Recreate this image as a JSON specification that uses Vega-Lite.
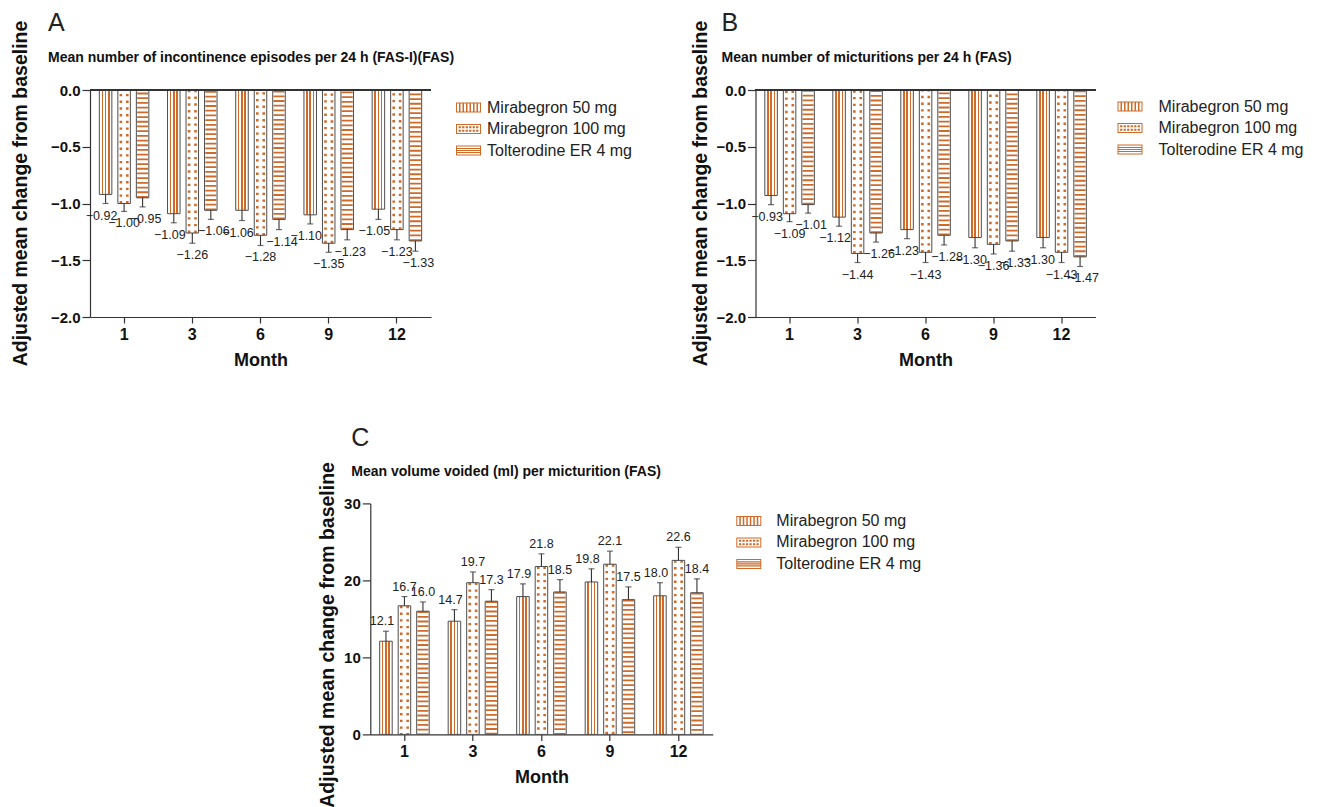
{
"$schema": "https://vega.github.io/schema/vega-lite/v6.json",
"background": "white",
"padding": {"left": 9, "top": 11, "right": 5, "bottom": 5},
"bounds": "flush",
"spacing": 413.4,
"resolve": {"scale": {"shape": "independent"}, "legend": {"shape": "independent"}},
"datasets": {
"A": [
{"month":"1","series":"Mirabegron 50 mg","value":-0.92,"err":-1.0},
{"month":"1","series":"Mirabegron 100 mg","value":-1.0,"err":-1.07},
{"month":"1","series":"Tolterodine ER 4 mg","value":-0.95,"err":-1.03},
{"month":"3","series":"Mirabegron 50 mg","value":-1.09,"err":-1.17},
{"month":"3","series":"Mirabegron 100 mg","value":-1.26,"err":-1.35},
{"month":"3","series":"Tolterodine ER 4 mg","value":-1.06,"err":-1.14},
{"month":"6","series":"Mirabegron 50 mg","value":-1.06,"err":-1.15},
{"month":"6","series":"Mirabegron 100 mg","value":-1.28,"err":-1.37},
{"month":"6","series":"Tolterodine ER 4 mg","value":-1.14,"err":-1.23},
{"month":"9","series":"Mirabegron 50 mg","value":-1.10,"err":-1.18},
{"month":"9","series":"Mirabegron 100 mg","value":-1.35,"err":-1.43},
{"month":"9","series":"Tolterodine ER 4 mg","value":-1.23,"err":-1.32},
{"month":"12","series":"Mirabegron 50 mg","value":-1.05,"err":-1.14},
{"month":"12","series":"Mirabegron 100 mg","value":-1.23,"err":-1.32},
{"month":"12","series":"Tolterodine ER 4 mg","value":-1.33,"err":-1.42}
],
"B": [
{"month":"1","series":"Mirabegron 50 mg","value":-0.93,"err":-1.01},
{"month":"1","series":"Mirabegron 100 mg","value":-1.09,"err":-1.16},
{"month":"1","series":"Tolterodine ER 4 mg","value":-1.01,"err":-1.085},
{"month":"3","series":"Mirabegron 50 mg","value":-1.12,"err":-1.20},
{"month":"3","series":"Mirabegron 100 mg","value":-1.44,"err":-1.52},
{"month":"3","series":"Tolterodine ER 4 mg","value":-1.26,"err":-1.34},
{"month":"6","series":"Mirabegron 50 mg","value":-1.23,"err":-1.31},
{"month":"6","series":"Mirabegron 100 mg","value":-1.43,"err":-1.52},
{"month":"6","series":"Tolterodine ER 4 mg","value":-1.28,"err":-1.365},
{"month":"9","series":"Mirabegron 50 mg","value":-1.30,"err":-1.39},
{"month":"9","series":"Mirabegron 100 mg","value":-1.36,"err":-1.445},
{"month":"9","series":"Tolterodine ER 4 mg","value":-1.33,"err":-1.42},
{"month":"12","series":"Mirabegron 50 mg","value":-1.30,"err":-1.39},
{"month":"12","series":"Mirabegron 100 mg","value":-1.43,"err":-1.52},
{"month":"12","series":"Tolterodine ER 4 mg","value":-1.47,"err":-1.555}
],
"C": [
{"month":"1","series":"Mirabegron 50 mg","value":12.1,"err":13.4},
{"month":"1","series":"Mirabegron 100 mg","value":16.7,"err":17.9},
{"month":"1","series":"Tolterodine ER 4 mg","value":16.0,"err":17.2},
{"month":"3","series":"Mirabegron 50 mg","value":14.7,"err":16.2},
{"month":"3","series":"Mirabegron 100 mg","value":19.7,"err":21.1},
{"month":"3","series":"Tolterodine ER 4 mg","value":17.3,"err":18.8},
{"month":"6","series":"Mirabegron 50 mg","value":17.9,"err":19.55},
{"month":"6","series":"Mirabegron 100 mg","value":21.8,"err":23.45},
{"month":"6","series":"Tolterodine ER 4 mg","value":18.5,"err":20.1},
{"month":"9","series":"Mirabegron 50 mg","value":19.8,"err":21.5},
{"month":"9","series":"Mirabegron 100 mg","value":22.1,"err":23.8},
{"month":"9","series":"Tolterodine ER 4 mg","value":17.5,"err":19.15},
{"month":"12","series":"Mirabegron 50 mg","value":18.0,"err":19.7},
{"month":"12","series":"Mirabegron 100 mg","value":22.6,"err":24.3},
{"month":"12","series":"Tolterodine ER 4 mg","value":18.4,"err":20.2}
]
},
"vconcat": [
{
"hconcat": [
{
"width": 341, "height": 227,
"data": {"name": "A"},
"title": {"text": "\u00a0A", "subtitle": "Mean number of incontinence episodes per 24 h (FAS-I)(FAS)", "dx": -42, "offset": -45, "subtitlePadding": 15},
"layer": [
{"mark": {"type": "bar", "fill": "#ffffff", "strokeWidth": 0}, "transform": [{"filter": "datum.series !== 'Mirabegron 50 mg'"}],
 "encoding": {
  "x": {"field": "month", "type": "nominal", "sort": ["1","3","6","9","12"], "scale": {"paddingInner": 0.274, "paddingOuter": 0.137}, "axis": {"title": "Month"}},
  "xOffset": {"field": "series", "type": "nominal", "scale": {"domain": ["Mirabegron 50 mg","Mirabegron 100 mg","Tolterodine ER 4 mg"], "paddingInner": 0.324, "paddingOuter": 0}},
  "y": {"field": "value", "type": "quantitative", "scale": {"domain": [-2, 0], "nice": false}, "axis": {"values": [0,-0.5,-1,-1.5,-2], "format": ".1f", "title": "Adjusted mean change from baseline", "titleX": -70, "titleY": 103, "titleBaseline": "middle", "titleAlign": "center"}}
 }},
{"mark": {"type": "bar", "strokeWidth": 0, "fill": {"gradient": "linear", "x1": 0, "y1": 0, "x2": 1, "y2": 0, "stops": [{"offset":0,"color":"#ffffff"},{"offset":0.18,"color":"#ffffff"},{"offset":0.18,"color":"#d06a28"},{"offset":0.3,"color":"#d06a28"},{"offset":0.3,"color":"#ffffff"},{"offset":0.44,"color":"#ffffff"},{"offset":0.44,"color":"#d06a28"},{"offset":0.56,"color":"#d06a28"},{"offset":0.56,"color":"#ffffff"},{"offset":0.7,"color":"#ffffff"},{"offset":0.7,"color":"#d06a28"},{"offset":0.82,"color":"#d06a28"},{"offset":0.82,"color":"#ffffff"},{"offset":1,"color":"#ffffff"}]}},
 "transform": [{"filter": "datum.series === 'Mirabegron 50 mg'"}],
 "encoding": {"x": {"field": "month", "type": "nominal", "sort": ["1","3","6","9","12"]}, "xOffset": {"field": "series", "type": "nominal"}, "y": {"field": "value", "type": "quantitative"}}},
{"mark": {"type": "rule", "color": "#d06a28", "strokeWidth": 11, "strokeDash": [1.8, 2.9]}, "transform": [{"filter": "datum.series === 'Tolterodine ER 4 mg'"}],
 "encoding": {"x": {"field": "month", "type": "nominal", "sort": ["1","3","6","9","12"]}, "xOffset": {"field": "series", "type": "nominal"}, "y": {"field": "value", "type": "quantitative"}, "y2": {"datum": 0}}},
{"mark": {"type": "rule", "color": "#d06a28", "strokeWidth": 9, "strokeDash": [2.4, 4.3]}, "transform": [{"filter": "datum.series === 'Mirabegron 100 mg'"}],
 "encoding": {"x": {"field": "month", "type": "nominal", "sort": ["1","3","6","9","12"]}, "xOffset": {"field": "series", "type": "nominal"}, "y": {"field": "value", "type": "quantitative"}, "y2": {"datum": 0}}},
{"mark": {"type": "rule", "color": "#ffffff", "strokeWidth": 3.8}, "transform": [{"filter": "datum.series === 'Mirabegron 100 mg'"}],
 "encoding": {"x": {"field": "month", "type": "nominal", "sort": ["1","3","6","9","12"]}, "xOffset": {"field": "series", "type": "nominal"}, "y": {"field": "value", "type": "quantitative"}, "y2": {"datum": 0}}},
{"mark": {"type": "bar", "fillOpacity": 0, "stroke": "#4d4d4d", "strokeWidth": 1},
 "encoding": {"x": {"field": "month", "type": "nominal", "sort": ["1","3","6","9","12"]}, "xOffset": {"field": "series", "type": "nominal"}, "y": {"field": "value", "type": "quantitative"}}},
{"mark": {"type": "rule", "color": "#333333", "strokeWidth": 1.1},
 "encoding": {"x": {"field": "month", "type": "nominal", "sort": ["1","3","6","9","12"]}, "xOffset": {"field": "series", "type": "nominal"}, "y": {"field": "value", "type": "quantitative"}, "y2": {"field": "err"}}},
{"mark": {"type": "tick", "color": "#333333", "thickness": 1.2, "size": 6, "orient": "horizontal"},
 "encoding": {"x": {"field": "month", "type": "nominal", "sort": ["1","3","6","9","12"]}, "xOffset": {"field": "series", "type": "nominal"}, "y": {"field": "err", "type": "quantitative"}}},
{"mark": {"type": "text", "fontSize": 12.5, "color": "#222222", "dy": 12, "dx": -4, "baseline": "middle"}, "transform": [{"filter": "datum.series === 'Mirabegron 50 mg'"}],
 "encoding": {"x": {"field": "month", "type": "nominal", "sort": ["1","3","6","9","12"]}, "xOffset": {"field": "series", "type": "nominal"}, "y": {"field": "err", "type": "quantitative"}, "text": {"field": "value", "type": "quantitative", "format": ".2f"}}},
{"mark": {"type": "text", "fontSize": 12.5, "color": "#222222", "dy": 12, "dx": 0, "baseline": "middle"}, "transform": [{"filter": "datum.series === 'Mirabegron 100 mg'"}],
 "encoding": {"x": {"field": "month", "type": "nominal", "sort": ["1","3","6","9","12"]}, "xOffset": {"field": "series", "type": "nominal"}, "y": {"field": "err", "type": "quantitative"}, "text": {"field": "value", "type": "quantitative", "format": ".2f"}}},
{"mark": {"type": "text", "fontSize": 12.5, "color": "#222222", "dy": 12, "dx": 3, "baseline": "middle"}, "transform": [{"filter": "datum.series === 'Tolterodine ER 4 mg'"}],
 "encoding": {"x": {"field": "month", "type": "nominal", "sort": ["1","3","6","9","12"]}, "xOffset": {"field": "series", "type": "nominal"}, "y": {"field": "err", "type": "quantitative"}, "text": {"field": "value", "type": "quantitative", "format": ".2f"}}},
{"mark": {"type": "rule", "color": "#333333", "strokeWidth": 1.2}, "encoding": {"y": {"datum": 0}}},
{"mark": {"type": "point", "filled": true, "opacity": 0, "color": "#d06a28"},
 "encoding": {"x": {"field": "month", "type": "nominal", "sort": ["1","3","6","9","12"]}, "xOffset": {"field": "series", "type": "nominal"}, "y": {"field": "value", "type": "quantitative"},
  "shape": {"field": "series", "type": "nominal", "scale": {"domain": ["Mirabegron 50 mg","Mirabegron 100 mg","Tolterodine ER 4 mg"], "range": [
   "M-1,-0.4H1V0.4H-1Z M-0.92,-0.32V0.32H0.92V-0.32Z M-0.76,-0.32h0.12v0.64h-0.12Z M-0.48,-0.32h0.12v0.64h-0.12Z M-0.2,-0.32h0.12v0.64h-0.12Z M0.08,-0.32h0.12v0.64h-0.12Z M0.36,-0.32h0.12v0.64h-0.12Z M0.64,-0.32h0.12v0.64h-0.12Z",
   "M-1,-0.4H1V0.4H-1Z M-0.92,-0.32V0.32H0.92V-0.32Z M-0.79,-0.22h0.18v0.16h-0.18Z M-0.51,-0.22h0.18v0.16h-0.18Z M-0.23,-0.22h0.18v0.16h-0.18Z M0.05,-0.22h0.18v0.16h-0.18Z M0.33,-0.22h0.18v0.16h-0.18Z M0.61,-0.22h0.18v0.16h-0.18Z M-0.79,0.06h0.18v0.16h-0.18Z M-0.51,0.06h0.18v0.16h-0.18Z M-0.23,0.06h0.18v0.16h-0.18Z M0.05,0.06h0.18v0.16h-0.18Z M0.33,0.06h0.18v0.16h-0.18Z M0.61,0.06h0.18v0.16h-0.18Z",
   "M-1,-0.4H1V0.4H-1Z M-0.92,-0.32V0.32H0.92V-0.32Z M-0.92,-0.205H0.92v0.09H-0.92Z M-0.92,-0.045H0.92v0.09H-0.92Z M-0.92,0.115H0.92v0.09H-0.92Z"
  ]}, "legend": {"title": null, "orient": "none", "legendX": 366, "legendY": 5, "labelOffset": 6}}}}
]
},
{
"width": 340, "height": 227,
"data": {"name": "B"},
"title": {"text": "\u00a0\u00a0B", "subtitle": "Mean number of micturitions per 24 h (FAS)", "dx": -34, "offset": -45, "subtitlePadding": 15},
"layer": [
{"mark": {"type": "bar", "fill": "#ffffff", "strokeWidth": 0}, "transform": [{"filter": "datum.series !== 'Mirabegron 50 mg'"}],
 "encoding": {
  "x": {"field": "month", "type": "nominal", "sort": ["1","3","6","9","12"], "scale": {"paddingInner": 0.274, "paddingOuter": 0.137}, "axis": {"title": "Month"}},
  "xOffset": {"field": "series", "type": "nominal", "scale": {"domain": ["Mirabegron 50 mg","Mirabegron 100 mg","Tolterodine ER 4 mg"], "paddingInner": 0.324, "paddingOuter": 0}},
  "y": {"field": "value", "type": "quantitative", "scale": {"domain": [-2, 0], "nice": false}, "axis": {"values": [0,-0.5,-1,-1.5,-2], "format": ".1f", "title": "Adjusted mean change from baseline", "titleX": -55, "titleY": 103, "titleBaseline": "middle", "titleAlign": "center"}}
 }},
{"mark": {"type": "bar", "strokeWidth": 0, "fill": {"gradient": "linear", "x1": 0, "y1": 0, "x2": 1, "y2": 0, "stops": [{"offset":0,"color":"#ffffff"},{"offset":0.18,"color":"#ffffff"},{"offset":0.18,"color":"#d06a28"},{"offset":0.3,"color":"#d06a28"},{"offset":0.3,"color":"#ffffff"},{"offset":0.44,"color":"#ffffff"},{"offset":0.44,"color":"#d06a28"},{"offset":0.56,"color":"#d06a28"},{"offset":0.56,"color":"#ffffff"},{"offset":0.7,"color":"#ffffff"},{"offset":0.7,"color":"#d06a28"},{"offset":0.82,"color":"#d06a28"},{"offset":0.82,"color":"#ffffff"},{"offset":1,"color":"#ffffff"}]}},
 "transform": [{"filter": "datum.series === 'Mirabegron 50 mg'"}],
 "encoding": {"x": {"field": "month", "type": "nominal", "sort": ["1","3","6","9","12"]}, "xOffset": {"field": "series", "type": "nominal"}, "y": {"field": "value", "type": "quantitative"}}},
{"mark": {"type": "rule", "color": "#d06a28", "strokeWidth": 11, "strokeDash": [1.8, 2.9]}, "transform": [{"filter": "datum.series === 'Tolterodine ER 4 mg'"}],
 "encoding": {"x": {"field": "month", "type": "nominal", "sort": ["1","3","6","9","12"]}, "xOffset": {"field": "series", "type": "nominal"}, "y": {"field": "value", "type": "quantitative"}, "y2": {"datum": 0}}},
{"mark": {"type": "rule", "color": "#d06a28", "strokeWidth": 9, "strokeDash": [2.4, 4.3]}, "transform": [{"filter": "datum.series === 'Mirabegron 100 mg'"}],
 "encoding": {"x": {"field": "month", "type": "nominal", "sort": ["1","3","6","9","12"]}, "xOffset": {"field": "series", "type": "nominal"}, "y": {"field": "value", "type": "quantitative"}, "y2": {"datum": 0}}},
{"mark": {"type": "rule", "color": "#ffffff", "strokeWidth": 3.8}, "transform": [{"filter": "datum.series === 'Mirabegron 100 mg'"}],
 "encoding": {"x": {"field": "month", "type": "nominal", "sort": ["1","3","6","9","12"]}, "xOffset": {"field": "series", "type": "nominal"}, "y": {"field": "value", "type": "quantitative"}, "y2": {"datum": 0}}},
{"mark": {"type": "bar", "fillOpacity": 0, "stroke": "#4d4d4d", "strokeWidth": 1},
 "encoding": {"x": {"field": "month", "type": "nominal", "sort": ["1","3","6","9","12"]}, "xOffset": {"field": "series", "type": "nominal"}, "y": {"field": "value", "type": "quantitative"}}},
{"mark": {"type": "rule", "color": "#333333", "strokeWidth": 1.1},
 "encoding": {"x": {"field": "month", "type": "nominal", "sort": ["1","3","6","9","12"]}, "xOffset": {"field": "series", "type": "nominal"}, "y": {"field": "value", "type": "quantitative"}, "y2": {"field": "err"}}},
{"mark": {"type": "tick", "color": "#333333", "thickness": 1.2, "size": 6, "orient": "horizontal"},
 "encoding": {"x": {"field": "month", "type": "nominal", "sort": ["1","3","6","9","12"]}, "xOffset": {"field": "series", "type": "nominal"}, "y": {"field": "err", "type": "quantitative"}}},
{"mark": {"type": "text", "fontSize": 12.5, "color": "#222222", "dy": 12, "dx": -4, "baseline": "middle"}, "transform": [{"filter": "datum.series === 'Mirabegron 50 mg'"}],
 "encoding": {"x": {"field": "month", "type": "nominal", "sort": ["1","3","6","9","12"]}, "xOffset": {"field": "series", "type": "nominal"}, "y": {"field": "err", "type": "quantitative"}, "text": {"field": "value", "type": "quantitative", "format": ".2f"}}},
{"mark": {"type": "text", "fontSize": 12.5, "color": "#222222", "dy": 12, "dx": 0, "baseline": "middle"}, "transform": [{"filter": "datum.series === 'Mirabegron 100 mg'"}],
 "encoding": {"x": {"field": "month", "type": "nominal", "sort": ["1","3","6","9","12"]}, "xOffset": {"field": "series", "type": "nominal"}, "y": {"field": "err", "type": "quantitative"}, "text": {"field": "value", "type": "quantitative", "format": ".2f"}}},
{"mark": {"type": "text", "fontSize": 12.5, "color": "#222222", "dy": 12, "dx": 3, "baseline": "middle"}, "transform": [{"filter": "datum.series === 'Tolterodine ER 4 mg'"}],
 "encoding": {"x": {"field": "month", "type": "nominal", "sort": ["1","3","6","9","12"]}, "xOffset": {"field": "series", "type": "nominal"}, "y": {"field": "err", "type": "quantitative"}, "text": {"field": "value", "type": "quantitative", "format": ".2f"}}},
{"mark": {"type": "rule", "color": "#333333", "strokeWidth": 1.2}, "encoding": {"y": {"datum": 0}}},
{"mark": {"type": "point", "filled": true, "opacity": 0, "color": "#d06a28"},
 "encoding": {"x": {"field": "month", "type": "nominal", "sort": ["1","3","6","9","12"]}, "xOffset": {"field": "series", "type": "nominal"}, "y": {"field": "value", "type": "quantitative"},
  "shape": {"field": "series", "type": "nominal", "scale": {"domain": ["Mirabegron 50 mg","Mirabegron 100 mg","Tolterodine ER 4 mg"], "range": [
   "M-1,-0.4H1V0.4H-1Z M-0.92,-0.32V0.32H0.92V-0.32Z M-0.76,-0.32h0.12v0.64h-0.12Z M-0.48,-0.32h0.12v0.64h-0.12Z M-0.2,-0.32h0.12v0.64h-0.12Z M0.08,-0.32h0.12v0.64h-0.12Z M0.36,-0.32h0.12v0.64h-0.12Z M0.64,-0.32h0.12v0.64h-0.12Z",
   "M-1,-0.4H1V0.4H-1Z M-0.92,-0.32V0.32H0.92V-0.32Z M-0.79,-0.22h0.18v0.16h-0.18Z M-0.51,-0.22h0.18v0.16h-0.18Z M-0.23,-0.22h0.18v0.16h-0.18Z M0.05,-0.22h0.18v0.16h-0.18Z M0.33,-0.22h0.18v0.16h-0.18Z M0.61,-0.22h0.18v0.16h-0.18Z M-0.79,0.06h0.18v0.16h-0.18Z M-0.51,0.06h0.18v0.16h-0.18Z M-0.23,0.06h0.18v0.16h-0.18Z M0.05,0.06h0.18v0.16h-0.18Z M0.33,0.06h0.18v0.16h-0.18Z M0.61,0.06h0.18v0.16h-0.18Z",
   "M-1,-0.4H1V0.4H-1Z M-0.92,-0.32V0.32H0.92V-0.32Z M-0.92,-0.205H0.92v0.09H-0.92Z M-0.92,-0.045H0.92v0.09H-0.92Z M-0.92,0.115H0.92v0.09H-0.92Z"
  ]}, "legend": {"title": null, "orient": "none", "legendX": 362, "legendY": 4, "labelOffset": 16}}}}
]
}
],
"spacing": 324.5,
"bounds": "flush",
"resolve": {"scale": {"shape": "independent"}, "legend": {"shape": "independent"}}
},
{
"hconcat": [
{"width": 1, "height": 10, "data": {"values": [{"a": 1}]}, "mark": {"type": "point", "opacity": 0}, "encoding": {}},
{
"width": 342.5, "height": 231,
"data": {"name": "C"},
"title": {"text": "C", "subtitle": "\u00a0\u00a0\u00a0\u00a0Mean volume voided (ml) per micturition (FAS)", "dx": -19, "offset": -17, "subtitlePadding": 14},
"layer": [
{"mark": {"type": "bar", "fill": "#ffffff", "strokeWidth": 0}, "transform": [{"filter": "datum.series !== 'Mirabegron 50 mg'"}],
 "encoding": {
  "x": {"field": "month", "type": "nominal", "sort": ["1","3","6","9","12"], "scale": {"paddingInner": 0.274, "paddingOuter": 0.137}, "axis": {"title": "Month"}},
  "xOffset": {"field": "series", "type": "nominal", "scale": {"domain": ["Mirabegron 50 mg","Mirabegron 100 mg","Tolterodine ER 4 mg"], "paddingInner": 0.324, "paddingOuter": 0}},
  "y": {"field": "value", "type": "quantitative", "scale": {"domain": [0, 30], "nice": false}, "axis": {"values": [0,10,20,30], "format": "d", "title": "Adjusted mean change from baseline", "titleX": -43, "titleY": 131, "titleBaseline": "middle", "titleAlign": "center"}}
 }},
{"mark": {"type": "bar", "strokeWidth": 0, "fill": {"gradient": "linear", "x1": 0, "y1": 0, "x2": 1, "y2": 0, "stops": [{"offset":0,"color":"#ffffff"},{"offset":0.18,"color":"#ffffff"},{"offset":0.18,"color":"#d06a28"},{"offset":0.3,"color":"#d06a28"},{"offset":0.3,"color":"#ffffff"},{"offset":0.44,"color":"#ffffff"},{"offset":0.44,"color":"#d06a28"},{"offset":0.56,"color":"#d06a28"},{"offset":0.56,"color":"#ffffff"},{"offset":0.7,"color":"#ffffff"},{"offset":0.7,"color":"#d06a28"},{"offset":0.82,"color":"#d06a28"},{"offset":0.82,"color":"#ffffff"},{"offset":1,"color":"#ffffff"}]}},
 "transform": [{"filter": "datum.series === 'Mirabegron 50 mg'"}],
 "encoding": {"x": {"field": "month", "type": "nominal", "sort": ["1","3","6","9","12"]}, "xOffset": {"field": "series", "type": "nominal"}, "y": {"field": "value", "type": "quantitative"}}},
{"mark": {"type": "rule", "color": "#d06a28", "strokeWidth": 11, "strokeDash": [1.8, 2.9]}, "transform": [{"filter": "datum.series === 'Tolterodine ER 4 mg'"}],
 "encoding": {"x": {"field": "month", "type": "nominal", "sort": ["1","3","6","9","12"]}, "xOffset": {"field": "series", "type": "nominal"}, "y": {"field": "value", "type": "quantitative"}, "y2": {"datum": 0}}},
{"mark": {"type": "rule", "color": "#d06a28", "strokeWidth": 9, "strokeDash": [2.4, 4.3]}, "transform": [{"filter": "datum.series === 'Mirabegron 100 mg'"}],
 "encoding": {"x": {"field": "month", "type": "nominal", "sort": ["1","3","6","9","12"]}, "xOffset": {"field": "series", "type": "nominal"}, "y": {"field": "value", "type": "quantitative"}, "y2": {"datum": 0}}},
{"mark": {"type": "rule", "color": "#ffffff", "strokeWidth": 3.8}, "transform": [{"filter": "datum.series === 'Mirabegron 100 mg'"}],
 "encoding": {"x": {"field": "month", "type": "nominal", "sort": ["1","3","6","9","12"]}, "xOffset": {"field": "series", "type": "nominal"}, "y": {"field": "value", "type": "quantitative"}, "y2": {"datum": 0}}},
{"mark": {"type": "bar", "fillOpacity": 0, "stroke": "#4d4d4d", "strokeWidth": 1},
 "encoding": {"x": {"field": "month", "type": "nominal", "sort": ["1","3","6","9","12"]}, "xOffset": {"field": "series", "type": "nominal"}, "y": {"field": "value", "type": "quantitative"}}},
{"mark": {"type": "rule", "color": "#333333", "strokeWidth": 1.1},
 "encoding": {"x": {"field": "month", "type": "nominal", "sort": ["1","3","6","9","12"]}, "xOffset": {"field": "series", "type": "nominal"}, "y": {"field": "value", "type": "quantitative"}, "y2": {"field": "err"}}},
{"mark": {"type": "tick", "color": "#333333", "thickness": 1.2, "size": 6, "orient": "horizontal"},
 "encoding": {"x": {"field": "month", "type": "nominal", "sort": ["1","3","6","9","12"]}, "xOffset": {"field": "series", "type": "nominal"}, "y": {"field": "err", "type": "quantitative"}}},
{"mark": {"type": "text", "fontSize": 12.5, "color": "#222222", "dy": -10, "dx": -4, "baseline": "middle"}, "transform": [{"filter": "datum.series === 'Mirabegron 50 mg'"}],
 "encoding": {"x": {"field": "month", "type": "nominal", "sort": ["1","3","6","9","12"]}, "xOffset": {"field": "series", "type": "nominal"}, "y": {"field": "err", "type": "quantitative"}, "text": {"field": "value", "type": "quantitative", "format": ".1f"}}},
{"mark": {"type": "text", "fontSize": 12.5, "color": "#222222", "dy": -10, "dx": 0, "baseline": "middle"}, "transform": [{"filter": "datum.series !== 'Mirabegron 50 mg'"}],
 "encoding": {"x": {"field": "month", "type": "nominal", "sort": ["1","3","6","9","12"]}, "xOffset": {"field": "series", "type": "nominal"}, "y": {"field": "err", "type": "quantitative"}, "text": {"field": "value", "type": "quantitative", "format": ".1f"}}},
{"mark": {"type": "point", "filled": true, "opacity": 0, "color": "#d06a28"},
 "encoding": {"x": {"field": "month", "type": "nominal", "sort": ["1","3","6","9","12"]}, "xOffset": {"field": "series", "type": "nominal"}, "y": {"field": "value", "type": "quantitative"},
  "shape": {"field": "series", "type": "nominal", "scale": {"domain": ["Mirabegron 50 mg","Mirabegron 100 mg","Tolterodine ER 4 mg"], "range": [
   "M-1,-0.4H1V0.4H-1Z M-0.92,-0.32V0.32H0.92V-0.32Z M-0.76,-0.32h0.12v0.64h-0.12Z M-0.48,-0.32h0.12v0.64h-0.12Z M-0.2,-0.32h0.12v0.64h-0.12Z M0.08,-0.32h0.12v0.64h-0.12Z M0.36,-0.32h0.12v0.64h-0.12Z M0.64,-0.32h0.12v0.64h-0.12Z",
   "M-1,-0.4H1V0.4H-1Z M-0.92,-0.32V0.32H0.92V-0.32Z M-0.79,-0.22h0.18v0.16h-0.18Z M-0.51,-0.22h0.18v0.16h-0.18Z M-0.23,-0.22h0.18v0.16h-0.18Z M0.05,-0.22h0.18v0.16h-0.18Z M0.33,-0.22h0.18v0.16h-0.18Z M0.61,-0.22h0.18v0.16h-0.18Z M-0.79,0.06h0.18v0.16h-0.18Z M-0.51,0.06h0.18v0.16h-0.18Z M-0.23,0.06h0.18v0.16h-0.18Z M0.05,0.06h0.18v0.16h-0.18Z M0.33,0.06h0.18v0.16h-0.18Z M0.61,0.06h0.18v0.16h-0.18Z",
   "M-1,-0.4H1V0.4H-1Z M-0.92,-0.32V0.32H0.92V-0.32Z M-0.92,-0.205H0.92v0.09H-0.92Z M-0.92,-0.045H0.92v0.09H-0.92Z M-0.92,0.115H0.92v0.09H-0.92Z"
  ]}, "legend": {"title": null, "orient": "none", "legendX": 366, "legendY": 5, "labelOffset": 15}}}}
]
}
],
"spacing": 279.3,
"bounds": "flush",
"resolve": {"scale": {"shape": "independent"}, "legend": {"shape": "independent"}}
}
],
"config": {
 "view": {"stroke": null},
 "font": "Liberation Sans",
 "axis": {"grid": false, "domainColor": "#333333", "tickColor": "#333333", "domainWidth": 1.2, "tickWidth": 1.2, "labelFont": "Liberation Sans", "titleFont": "Liberation Sans", "labelFontWeight": "bold", "titleFontWeight": "bold", "labelColor": "#111111", "titleColor": "#111111"},
 "axisX": {"labelFontSize": 16, "tickSize": 6, "labelPadding": 3, "titleFontSize": 18, "titlePadding": 9, "labelAngle": 0},
 "axisY": {"labelFontSize": 15, "tickSize": 8, "labelPadding": 2, "titleFontSize": 19.5},
 "title": {"anchor": "start", "frame": "group", "font": "Liberation Sans", "fontSize": 25, "fontWeight": "normal", "color": "#222222", "subtitleFont": "Liberation Sans", "subtitleFontSize": 14, "subtitleFontWeight": "bold", "subtitleColor": "#111111"},
 "legend": {"labelFont": "Liberation Sans", "labelFontSize": 16, "labelColor": "#222222", "symbolSize": 625, "symbolOpacity": 1, "symbolStrokeWidth": 0, "symbolFillColor": "#d06a28", "rowPadding": 0.5, "padding": 0}
}
}
